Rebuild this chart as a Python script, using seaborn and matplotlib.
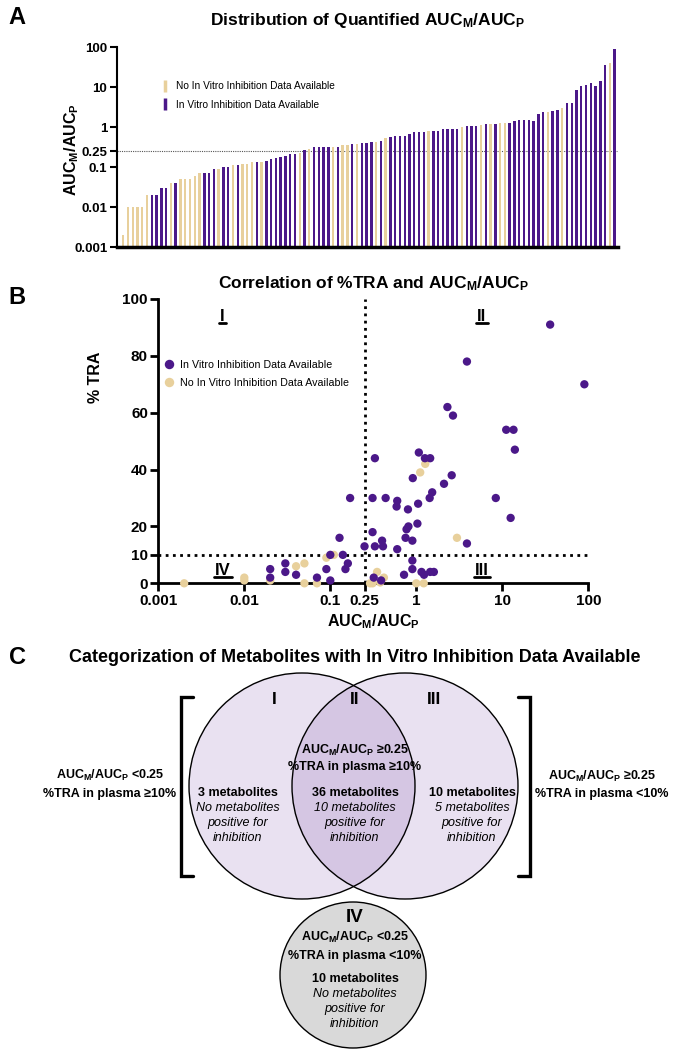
import numpy as np
import pandas as pd
import matplotlib
matplotlib.use("Agg")
import matplotlib.pyplot as plt
import seaborn as sns
from matplotlib.lines import Line2D
from matplotlib.patches import Circle
from matplotlib.ticker import NullLocator

# ---- panel A: AUC_M/AUC_P of every quantified metabolite, ranked ----
ratio_ranked = [0.002, 0.01, 0.01, 0.01, 0.01, 0.02, 0.02, 0.02, 0.03, 0.03,
                0.04, 0.04, 0.05, 0.05, 0.05, 0.06, 0.07, 0.07, 0.07, 0.09,
                0.09, 0.1, 0.1, 0.11, 0.11, 0.12, 0.12, 0.13, 0.13, 0.13,
                0.145, 0.155, 0.165, 0.175, 0.19, 0.21, 0.21, 0.23, 0.26, 0.29,
                0.31, 0.31, 0.32, 0.32, 0.32, 0.32, 0.35, 0.35, 0.38, 0.38,
                0.4, 0.4, 0.41, 0.43, 0.45, 0.53, 0.55, 0.6, 0.6, 0.6,
                0.66, 0.74, 0.76, 0.77, 0.79, 0.8, 0.8, 0.89, 0.9, 0.9,
                0.91, 1.0, 1.04, 1.04, 1.05, 1.14, 1.18, 1.2, 1.22, 1.24,
                1.24, 1.28, 1.44, 1.47, 1.5, 1.52, 1.41, 2.1, 2.33, 2.37,
                2.56, 2.6, 2.98, 3.9, 3.9, 8.4, 10.8, 11.2, 12.4, 10.4,
                14.1, 36, 39, 90]
# 1 = in vitro inhibition data available
ranked_invitro = [0, 0, 0, 0, 0, 0, 1, 1, 1, 1,
                  0, 1, 0, 0, 0, 0, 0, 1, 1, 1,
                  0, 1, 1, 0, 1, 0, 0, 0, 1, 0,
                  1, 1, 1, 1, 1, 1, 1, 0, 1, 0,
                  1, 1, 1, 1, 0, 1, 0, 0, 1, 0,
                  1, 1, 1, 0, 1, 0, 1, 1, 1, 1,
                  1, 1, 1, 1, 0, 1, 1, 1, 1, 1,
                  1, 0, 1, 1, 1, 0, 1, 0, 1, 0,
                  0, 1, 1, 1, 1, 1, 1, 1, 1, 0,
                  1, 1, 0, 1, 1, 1, 1, 1, 1, 1,
                  1, 1, 0, 1]
ratio_ticks = [0.001, 0.01, 0.1, 0.25, 1, 10, 100]
ratio_ticklabels = ["0.001", "0.01", "0.1", "0.25", "1", "10", "100"]

# ---- panel B: %TRA vs AUC_M/AUC_P ----
invitro_ratio = [0.02, 0.02, 0.03, 0.03, 0.04, 0.07, 0.09, 0.1, 0.1, 0.128,
                 0.14, 0.15, 0.16, 0.17,
                 0.25, 0.31, 0.31, 0.33, 0.33, 0.32, 0.39, 0.4, 0.41, 0.44,
                 0.6, 0.59, 0.6, 0.72, 0.75, 0.77, 0.81, 0.8, 0.9, 0.91,
                 0.9, 0.9, 1.03, 1.05, 1.07, 1.15, 1.23, 1.26, 1.45, 1.43,
                 1.53, 1.45, 1.6, 2.1, 2.3, 2.58, 2.67, 3.88, 3.88, 8.4,
                 11.1, 13.5, 12.5, 14, 36, 90]
invitro_tra = [5, 2, 7, 4, 3, 2, 5, 1, 10, 16,
               10, 5, 7, 30,
               13, 30, 18, 44, 13, 2, 1, 15, 13, 30,
               29, 27, 12, 3, 16, 19, 20, 26, 15, 37,
               8, 5, 21, 28, 46, 4, 3, 44, 44, 30,
               32, 4, 4, 35, 62, 38, 59, 78, 14, 30,
               54, 54, 23, 47, 91, 70]
no_invitro_ratio = [0.002, 0.01, 0.01, 0.02, 0.04, 0.05, 0.05, 0.07, 0.09, 0.11,
                    0.29, 0.31, 0.35, 0.38, 0.42, 1.0, 1.22, 1.11, 1.27, 2.97]
no_invitro_tra = [0, 2, 1, 1, 6, 7, 0, 0, 9, 10,
                  0, 0, 4, 0.3, 2, 0, 0, 39, 42, 16]
tra_ticks = [0, 10, 20, 40, 60, 80, 100]
ratio_cut = 0.25
tra_cut = 10

# ---- panel C: categories of metabolites with in vitro data ----
category_names = ["I", "II", "III", "IV"]
category_counts = [3, 36, 10, 10]
category_positive = [0, 10, 5, 0]

lab_yes = "In Vitro Inhibition Data Available"
lab_no = "No In Vitro Inhibition Data Available"
purple = "#4b1889"
tan = "#e8d09c"
pal = {lab_yes: purple, lab_no: tan}
ratio_lab = r"AUC$_M$/AUC$_P$"

sns.set_style("ticks", {"axes.edgecolor": "black", "text.color": "black",
                        "axes.labelcolor": "black", "xtick.color": "black",
                        "ytick.color": "black"})
plt.rcParams["font.family"] = ["Liberation Sans", "DejaVu Sans"]
plt.rcParams["mathtext.default"] = "regular"

W, H = 677, 1050
fig = plt.figure(figsize=(W / 100, H / 100), dpi=100)

# overlay in pixel coordinates for panel letters and the Venn panel
ov = fig.add_axes([0, 0, 1, 1])
ov.set_xlim(0, W)
ov.set_ylim(H, 0)
ov.axis("off")
ov.set_zorder(5)

# ================= A =================
axA = fig.add_axes([117 / W, 1 - 247 / H, 501 / W, 200 / H])
groups = [lab_yes if v else lab_no for v in ranked_invitro]
sns.barplot(x=np.arange(len(ratio_ranked)), y=ratio_ranked, hue=groups,
            palette=pal, dodge=False, width=0.5, saturation=1, linewidth=0,
            legend=False, ax=axA)
axA.set_yscale("log")
axA.set_ylim(0.001, 100)
axA.set_xlim(-1.3, len(ratio_ranked) - 0.3)
axA.set_yticks(ratio_ticks)
axA.set_yticklabels(ratio_ticklabels, fontweight="bold", fontsize=9.5)
axA.yaxis.set_minor_locator(NullLocator())
axA.set_xticks([])
axA.set_xlabel("")
axA.set_ylabel("")
axA.axhline(ratio_cut, ls=(0, (1, 1)), lw=0.8, color="#555555", zorder=0)
sns.despine(ax=axA)
axA.spines["left"].set_linewidth(1.5)
axA.spines["bottom"].set_linewidth(2.5)
axA.tick_params(axis="y", length=5, width=1.5, pad=2)
ov.text(71.5, 150, ratio_lab, rotation=90, ha="center", va="center",
        fontweight="bold", fontsize=11.5)
axA.set_title(r"Distribution of Quantified AUC$_M$/AUC$_P$",
              fontweight="bold", fontsize=12.5, pad=16)
hA = [Line2D([0], [0], color=tan, marker="|", ls="none", markersize=8, mew=2.5),
      Line2D([0], [0], color=purple, marker="|", ls="none", markersize=8, mew=2.5)]
axA.legend(hA, [lab_no, lab_yes], loc="upper left", bbox_to_anchor=(0.075, 0.85),
           frameon=False, fontsize=7.3, handlelength=1.2, handletextpad=0.5,
           labelspacing=0.85, borderaxespad=0)

# ================= B =================
axB = fig.add_axes([158.3 / W, 1 - 583.3 / H, 430 / W, 284.3 / H])
df_b = pd.DataFrame({
    "ratio": no_invitro_ratio + invitro_ratio,
    "tra": no_invitro_tra + invitro_tra,
    "group": [lab_no] * len(no_invitro_ratio) + [lab_yes] * len(invitro_ratio),
})
sns.scatterplot(data=df_b, x="ratio", y="tra", hue="group", palette=pal,
                s=36, edgecolor="none", linewidth=0, clip_on=False,
                legend=False, ax=axB, zorder=3)
axB.set_xscale("log")
axB.set_xlim(0.001, 100)
axB.set_ylim(0, 100)
axB.set_xticks(ratio_ticks)
axB.set_xticklabels(ratio_ticklabels, fontweight="bold", fontsize=11)
axB.xaxis.set_minor_locator(NullLocator())
axB.set_yticks(tra_ticks)
axB.set_yticklabels([str(t) for t in tra_ticks], fontweight="bold", fontsize=11)
sns.despine(ax=axB)
for s in ("left", "bottom"):
    axB.spines[s].set_linewidth(2)
axB.tick_params(length=5.5, width=2, pad=2)
axB.axvline(ratio_cut, ls=(0, (1, 1.6)), lw=2, color="black", zorder=1)
axB.axhline(tra_cut, ls=(0, (1, 1.6)), lw=2, color="black", zorder=1)
axB.set_xlabel(ratio_lab, fontweight="bold", fontsize=11.5, labelpad=3)
axB.set_ylabel("")
ov.text(95, 377, "% TRA", rotation=90, ha="center", va="center",
        fontweight="bold", fontsize=11.5)
axB.set_title(r"Correlation of %TRA and AUC$_M$/AUC$_P$",
              fontweight="bold", fontsize=12.5, pad=8)
hB = [Line2D([0], [0], color=purple, marker="o", ls="none", markersize=6.8, mew=0),
      Line2D([0], [0], color=tan, marker="o", ls="none", markersize=6.8, mew=0)]
axB.legend(hB, [lab_yes, lab_no], loc="upper left", bbox_to_anchor=(0.0, 0.80),
           frameon=False, fontsize=7.7, handlelength=1.2, handletextpad=0.45,
           labelspacing=0.75, borderaxespad=0)
numerals = []
for name, xx, yy in [("I", 0.0056, 94), ("II", 5.8, 94),
                     ("IV", 0.0056, 4.5), ("III", 5.8, 4.5)]:
    numerals.append(axB.text(xx, yy, name, ha="center", va="center",
                             fontweight="bold", fontsize=12))

# ================= panel letters =================
for letter, y in [("A", 18), ("B", 298), ("C", 657)]:
    ov.text(17, y, letter, ha="center", va="center", fontweight="bold", fontsize=17)

# ================= C =================
ov.text(355, 657, "Categorization of Metabolites with In Vitro Inhibition Data Available",
        ha="center", va="center", fontweight="bold", fontsize=13)
light = "#e9e1f1"
dark = "#d5c6e3"
grey = "#d9d9d9"
r_big = 113
cl = Circle((302, 786), r_big, fc=light, ec="none")
cr = Circle((405, 786), r_big, fc=light, ec="none")
ov.add_patch(cl)
ov.add_patch(cr)
lens = Circle((405, 786), r_big, fc=dark, ec="none")
ov.add_patch(lens)
lens.set_clip_path(cl)
ov.add_patch(Circle((302, 786), r_big, fc="none", ec="black", lw=1))
ov.add_patch(Circle((405, 786), r_big, fc="none", ec="black", lw=1))
ov.add_patch(Circle((353, 975), 73, fc=grey, ec="black", lw=1))

# brackets
ov.plot([193, 181, 181, 193], [697, 697, 876, 876], color="black", lw=2.4,
        solid_joinstyle="miter")
ov.plot([518, 530, 530, 518], [697, 697, 876, 876], color="black", lw=2.4,
        solid_joinstyle="miter")


def region_lines(i):
    n, p = category_counts[i], category_positive[i]
    first = f"{n} metabolites"
    second = "No metabolites" if p == 0 else f"{p} metabolites"
    return first, second


fs = 9
hi = "AUC$_M$/AUC$_P$ \u22650.25"
lo = "AUC$_M$/AUC$_P$ <0.25"
tra_hi = "%TRA in plasma \u226510%"
tra_lo = "%TRA in plasma <10%"

# side labels
ov.text(110, 775, lo, ha="center", va="center", fontweight="bold", fontsize=fs)
ov.text(110, 794, tra_hi, ha="center", va="center", fontweight="bold", fontsize=fs)
ov.text(602, 776, hi, ha="center", va="center", fontweight="bold", fontsize=fs)
ov.text(602, 794, tra_lo, ha="center", va="center", fontweight="bold", fontsize=fs)

# region headers
for name, x in zip(category_names[:3], [274, 355, 434]):
    ov.text(x, 700, name, ha="center", va="center", fontweight="bold", fontsize=12.5)
ov.text(355, 917, category_names[3], ha="center", va="center", fontweight="bold",
        fontsize=13.5)

# region II criteria
ov.text(355, 750, hi, ha="center", va="center", fontweight="bold", fontsize=fs)
ov.text(355, 767, tra_hi, ha="center", va="center", fontweight="bold", fontsize=fs)
# region IV criteria
ov.text(355, 937, lo, ha="center", va="center", fontweight="bold", fontsize=fs)
ov.text(355, 956, tra_lo, ha="center", va="center", fontweight="bold", fontsize=fs)

for i, (x, y0) in enumerate([(238, 793), (355, 793), (472, 793), (355, 979)]):
    first, second = region_lines(i)
    ov.text(x, y0, first, ha="center", va="center", fontweight="bold", fontsize=fs)
    for k, line in enumerate([second, "positive for", "inhibition"]):
        ov.text(x, y0 + 15 * (k + 1), line, ha="center", va="center",
                style="italic", fontsize=fs)

# underline the quadrant numerals of panel B
fig.canvas.draw()
rend = fig.canvas.get_renderer()
for t in numerals:
    bb = t.get_window_extent(rend)
    yy = H - bb.y0 - 1
    ov.plot([bb.x0 - 1, bb.x1 + 1], [yy, yy], color="black", lw=2)

fig.savefig("out.png", dpi=100, facecolor="white")
